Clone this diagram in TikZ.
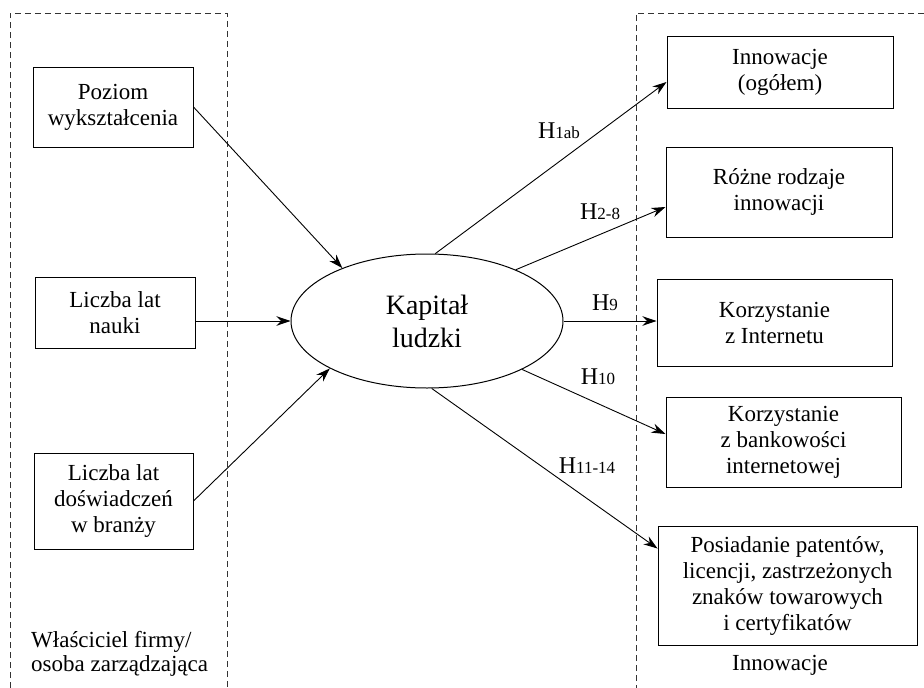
\documentclass[tikz,border=0pt]{standalone}
\usepackage{fontspec}
\setmainfont{Liberation Serif}
\usetikzlibrary{arrows.meta,shapes.geometric,calc}
\newcommand\hyplab[2]{{\fontsize{24}{26}\selectfont #1}{\fontsize{17}{19}\selectfont #2}}
\begin{document}
\begin{tikzpicture}[x=1pt,y=-1pt,
  box/.style={draw, line width=1pt, inner sep=0pt, align=center, font=\fontsize{23}{26}\selectfont},
  arr/.style={-{Stealth[length=14pt,width=9.5pt]}, line width=0.9pt},
  frame/.style={dash pattern=on 6pt off 4pt, line width=1pt, draw=black!80},
  lab/.style={inner sep=0pt}
]
\useasboundingbox (0,0) rectangle (924,688);
% dashed frames
\draw[frame] (10,688) -- (10,13) -- (227,13) -- (227,688);
\draw[frame] (924,13) -- (636,13) -- (636,688);

% left boxes
\node[box, minimum width=160pt, minimum height=80pt] (L1) at (113,107) {Poziom\\wykształcenia};
\node[box, minimum width=160pt, minimum height=71pt] (L2) at (115,312.5) {Liczba lat\\nauki};
\node[box, minimum width=159pt, minimum height=96pt] (L3) at (113.5,501) {Liczba lat\\doświadczeń\\w branży};

% ellipse
\node[ellipse, draw, line width=1pt, minimum width=272pt, minimum height=134pt, inner sep=0pt,
      align=center, font=\fontsize{28}{33}\selectfont] (K) at (427,321) {Kapitał\\ludzki};

% right boxes
\node[box, minimum width=226pt, minimum height=72pt] (B1) at (780,72) {Innowacje\\(ogółem)};
\node[box, minimum width=226pt, minimum height=90pt] (B2) at (779,192) {Różne rodzaje\\innowacji};
\node[box, minimum width=235pt, minimum height=87pt] (B3) at (774.5,322.5) {Korzystanie\\z Internetu};
\node[box, minimum width=235pt, minimum height=90pt] (B4) at (783.5,442) {Korzystanie\\z bankowości\\internetowej};
\node[box, minimum width=259pt, minimum height=119pt] (B5) at (787.5,585.5) {Posiadanie patentów,\\licencji, zastrzeżonych\\znaków towarowych\\i certyfikatów};

% incoming arrows
\draw[arr] (L1.east) -- (K.148.8);
\draw[arr] (L2.east |- K.west) -- (K.west);
\draw[arr] (L3.east) -- (K.206.6);

% outgoing arrows
\draw[arr] (K.83) -- ($(B1.west)+(0,10)$);
\draw[arr] (K.30.3) -- ($(B2.west)+(0,15)$);
\draw[arr] (K.east) -- (K.east -| B3.west);
\draw[arr] (K.-27.8) -- ($(B4.west)+(0,-8)$);
\draw[arr] (K.-86) -- ($(B5.west)+(0,-37)$);

% hypothesis labels
\node[lab] (h1) at (559,131) {\hyplab{H}{1ab}};
\node[lab] (h2) at (600,212) {\hyplab{H}{2-8}};
\node[lab] (h3) at (605,303) {\hyplab{H}{9}};
\node[lab] (h4) at (598,377) {\hyplab{H}{10}};
\node[lab] (h5) at (587,466) {\hyplab{H}{11-14}};

% group labels
\node[lab, anchor=west, align=left, font=\fontsize{23}{24}\selectfont] (gl) at (31,654) {Właściciel firmy/\\osoba zarządzająca};
\node[lab, anchor=base, font=\fontsize{23}{24}\selectfont] (gr) at (780,670) {Innowacje};
\end{tikzpicture}
\end{document}
